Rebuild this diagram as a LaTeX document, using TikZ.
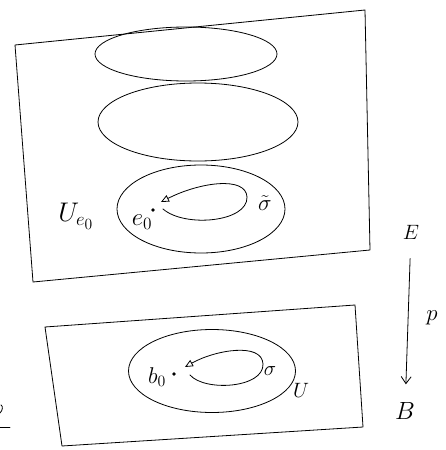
\documentclass[tikz,border=0pt]{standalone}
\usetikzlibrary{arrows.meta,shapes.geometric}

\begin{document}
\begin{tikzpicture}[x=1pt,y=-1pt,
  pen/.style={black,line width=0.8pt,line join=round,line cap=round},
  blob/.style={pen,draw,ellipse,inner sep=0pt},
  lbl/.style={font=\huge},
  dot/.style={circle,fill,inner sep=1.3pt},
  loopy/.style={pen,-{Triangle[open,length=8pt,width=7pt]}}]
  \useasboundingbox (0,0) rectangle (445,450);
  % total space E
  \draw[pen] (15,45) -- (365,10) -- (370,250) -- (33,282) -- cycle;
  \node[blob,minimum width=182pt,minimum height=54pt] (top) at (186,54) {};
  \node[blob,minimum width=200pt,minimum height=78pt] (mid) at (198,122) {};
  \node[blob,minimum width=168pt,minimum height=88pt] (Ue) at (201,209) {};
  \node[dot] (e0) at (153,210) {};
  \draw[loopy] (163,209) .. controls (185,228) and (248,222) .. (247,197)
    .. controls (246,176) and (200,182) .. (161,202);
  \node[lbl,scale=1.3] (Uelbl) at (76,216) {$U_{e_0}$};
  \node[lbl,scale=1.2] (e0lbl) at (142,222) {$e_0$};
  \node[lbl,scale=1.1] (sigt) at (265,203) {$\tilde\sigma$};
  % base B
  \draw[pen] (45,327) -- (355,305) -- (363,427) -- (62,446) -- cycle;
  \node[blob,minimum width=167pt,minimum height=83pt] (U) at (212,371) {};
  \node[dot] (b0) at (174,374) {};
  \draw[loopy] (190,375) .. controls (205,392) and (264,388) .. (263,364)
    .. controls (262,342) and (215,350) .. (185,367);
  \node[lbl,scale=1.1] (b0lbl) at (157,377) {$b_0$};
  \node[lbl] (sig) at (270,371) {$\sigma$};
  \node[lbl] (Ulbl) at (301,390) {$U$};
  % projection
  \node[lbl] (E) at (411,232) {$E$};
  \node[lbl,scale=1.2] (B) at (405,411) {$B$};
  \draw[pen,-{Straight Barb[length=7pt,width=10pt]},shorten <=16pt,shorten >=14pt] (E) -- (B);
  \node[lbl,scale=1.1] (p) at (432,318) {$p$};
  % cut-off stroke at the left edge
  \draw[pen] (0,413) .. controls (3,410) and (3,406) .. (1,405);
  \draw[pen] (0,427) -- (10,427);
\end{tikzpicture}
\end{document}
